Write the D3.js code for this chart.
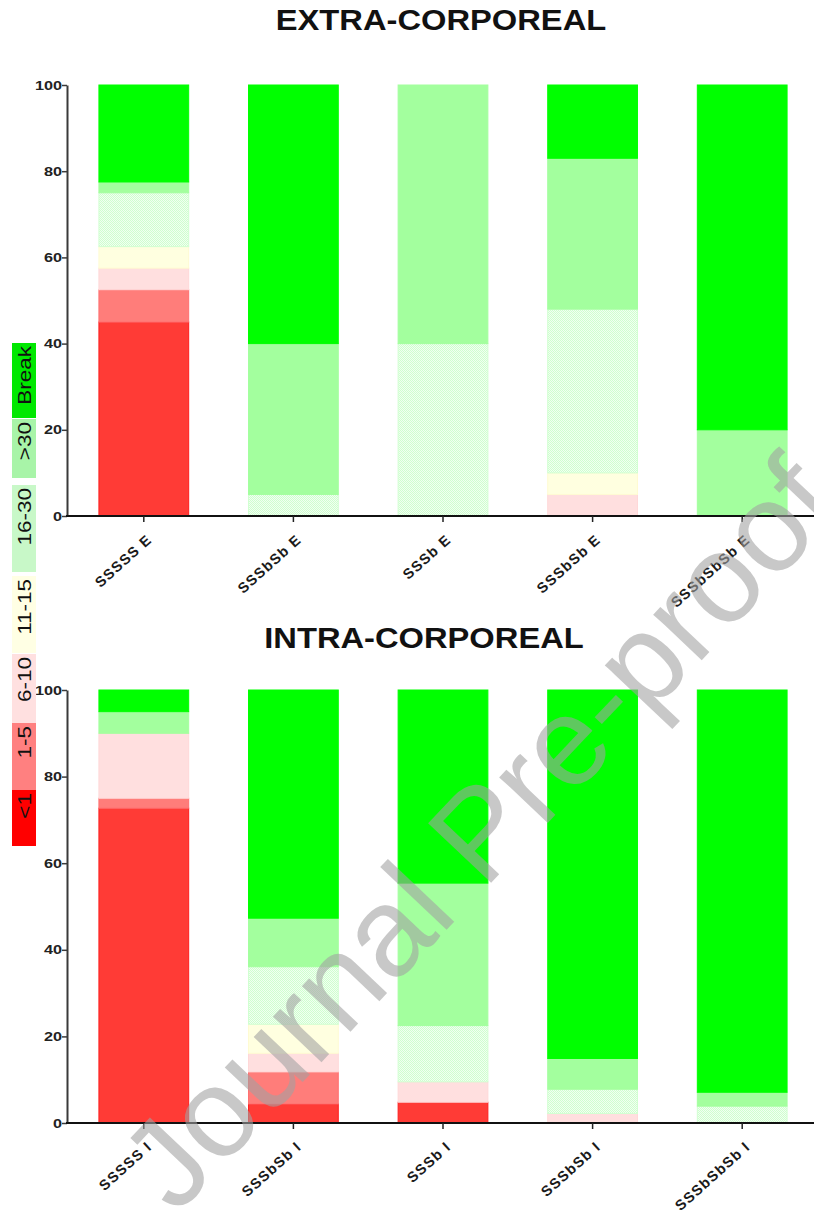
<!DOCTYPE html>
<html>
<head>
<meta charset="utf-8">
<script src="https://cdn.jsdelivr.net/npm/d3@7"></script>
<style>
  body { margin: 0; background: #fff; }
  svg { display: block; font-family: "Liberation Sans", Arial, sans-serif; }
</style>
</head>
<body>
<svg id="chart" width="814" height="1218"></svg>
<script>
// ---- data -------------------------------------------------------------
const bins = ['<1', '1-5', '6-10', '11-15', '16-30', '>30', 'Break'];
const extraLabels = ['SSSSS E', 'SSSbSb E', 'SSSb E', 'SSSbSb E', 'SSSbSbSb E'];
const intraLabels = ['SSSSS I', 'SSSbSb I', 'SSSb I', 'SSSbSb I', 'SSSbSbSb I'];
const yTicks = [0, 20, 40, 60, 80, 100];

// extra-corporeal, percentage per bin for each group
const extraLess1   = [45,   0,  0,  0,  0];
const extra1to5    = [7.5,  0,  0,  0,  0];
const extra6to10   = [5,    0,  0,  5,  0];
const extra11to15  = [5,    0,  0,  5,  0];
const extra16to30  = [12.5, 5, 40, 38,  0];
const extraOver30  = [2.5, 35, 60, 35, 20];
const extraBreak   = [22.5, 60, 0, 17, 80];

// intra-corporeal, percentage per bin for each group
const intraLess1   = [72.7, 4.4,  4.8, 0,    0];
const intra1to5    = [2.3,  7.4,  0,   0,    0];
const intra6to10   = [15,   4.3,  4.7, 2.2,  0];
const intra11to15  = [0,    6.7,  0,   0,    0];
const intra16to30  = [0,   13.3, 13,   5.6,  3.9];
const intraOver30  = [5,   11.2, 32.9, 7.1,  3.2];
const intraBreak   = [5,   52.7, 44.6, 85.1, 92.9];

// ---- styles -----------------------------------------------------------
const barFills   = ['#ff3b36', '#ff7d7a', '#ffdfdf', '#ffffe0', 'url(#dots)', '#a3ff9e', '#00ff00'];
const barStrokes = ['#ff1e1e', '#ff7070', '#ffd8d8', '#fffbd2', '#d2ffd2', '#a3ff9e', '#00ff00'];
const legendFills = ['#ff0000', '#ff8080', '#ffe0e0', '#ffffe4', '#c8f8c8', '#a8f4a8', '#00e800'];

const svg = d3.select('#chart');

// fine dotted texture used for the 16-30 bin
const defs = svg.append('defs');
const pat = defs.append('pattern').attr('id', 'dots')
  .attr('width', 2).attr('height', 2).attr('patternUnits', 'userSpaceOnUse');
pat.append('rect').attr('width', 2).attr('height', 2).attr('fill', '#f1fff1');
pat.append('rect').attr('width', 1).attr('height', 1).attr('fill', '#cfffcf');
pat.append('rect').attr('x', 1).attr('y', 1).attr('width', 1).attr('height', 1).attr('fill', '#cfffcf');

function buildRows(series) {
  return series[0].map((_, i) => {
    const row = { idx: i };
    bins.forEach((b, k) => { row[b] = series[k][i]; });
    return row;
  });
}

function panel(opts) {
  const { series, labels, title, titleX, titleY, yTop, yBottom } = opts;
  const rows = buildRows(series);
  const x = d3.scaleBand().domain(d3.range(labels.length))
    .range([69, 817]).paddingInner(0.4).paddingOuter(0.2);
  const y = d3.scaleLinear().domain([0, 100]).range([yBottom, yTop]);
  const stacked = d3.stack().keys(bins)(rows);

  const g = svg.append('g');

  stacked.forEach((layer, k) => {
    g.append('g').selectAll('rect')
      .data(layer.filter(d => d[1] - d[0] > 0))
      .join('rect')
      .attr('x', d => x(d.data.idx))
      .attr('width', x.bandwidth())
      .attr('y', d => y(d[1]))
      .attr('height', d => y(d[0]) - y(d[1]))
      .attr('fill', barFills[k])
      .attr('stroke', barStrokes[k])
      .attr('stroke-width', 1);
  });

  // y axis
  const ya = g.append('g').attr('transform', 'translate(67,0)')
    .call(d3.axisLeft(y).tickValues(yTicks).tickSize(5).tickSizeOuter(0).tickPadding(1));
  ya.select('.domain').attr('stroke', '#3a3a3a').attr('stroke-width', 2);
  ya.selectAll('.tick line').attr('stroke', '#3a3a3a').attr('stroke-width', 1.5);
  ya.selectAll('.tick text')
    .attr('font-size', 13).attr('font-weight', 'bold').attr('fill', '#222')
    .attr('font-family', '"Liberation Sans", Arial, sans-serif')
    .attr('x', -4).attr('transform', 'scale(1.25,1)');

  // x axis
  const xa = g.append('g').attr('transform', `translate(0,${yBottom})`)
    .call(d3.axisBottom(x).tickSize(6).tickSizeOuter(0).tickFormat(i => labels[i]));
  xa.select('.domain').attr('d', 'M66,0H814').attr('stroke', '#111').attr('stroke-width', 2);
  xa.selectAll('.tick line').attr('stroke', '#222').attr('stroke-width', 1.5);
  xa.selectAll('.tick text')
    .attr('font-size', 14.5).attr('font-weight', 'bold').attr('fill', '#1a1a1a')
    .attr('font-family', '"Liberation Sans", Arial, sans-serif')
    .attr('letter-spacing', 1.2)
    .attr('text-anchor', 'end')
    .attr('x', 0).attr('y', 0).attr('dy', 0)
    .attr('transform', 'translate(9,25) rotate(-42)');

  // title
  svg.append('g').attr('transform', `translate(${titleX},${titleY}) scale(1.09,1)`)
    .append('text').attr('text-anchor', 'middle')
    .attr('font-size', 30).attr('font-weight', 'bold').attr('fill', '#111')
    .text(title);
}

panel({
  series: [extraLess1, extra1to5, extra6to10, extra11to15, extra16to30, extraOver30, extraBreak],
  labels: extraLabels, title: 'EXTRA-CORPOREAL', titleX: 441, titleY: 30,
  yTop: 85, yBottom: 516
});
panel({
  series: [intraLess1, intra1to5, intra6to10, intra11to15, intra16to30, intraOver30, intraBreak],
  labels: intraLabels, title: 'INTRA-CORPOREAL', titleX: 424, titleY: 648,
  yTop: 690, yBottom: 1123
});

// ---- legend: vertical column of swatches, text reading upward ---------
const legendBoxes = [[790, 846], [723, 790], [654, 723], [576, 653], [485, 572], [419, 478], [343, 418]];
const lg = svg.append('g');
bins.forEach((b, k) => {
  const [top, bottom] = [legendBoxes[k][0], legendBoxes[k][1]];
  lg.append('rect').attr('x', 12).attr('y', top).attr('width', 24).attr('height', bottom - top)
    .attr('fill', legendFills[k]);
  lg.append('text')
    .attr('transform', `translate(31,${top + 3}) rotate(-90) scale(1.25,1)`)
    .attr('text-anchor', 'end')
    .attr('font-size', 18).attr('fill', '#111')
    .text(b);
});

// ---- watermark --------------------------------------------------------
svg.append('text')
  .attr('transform', 'translate(176,1216) rotate(-46.6)')
  .attr('font-size', 126)
  .attr('fill', '#a1a1a1').attr('fill-opacity', 0.59)
  .text('Journal Pre-proof');
</script>
</body>
</html>
